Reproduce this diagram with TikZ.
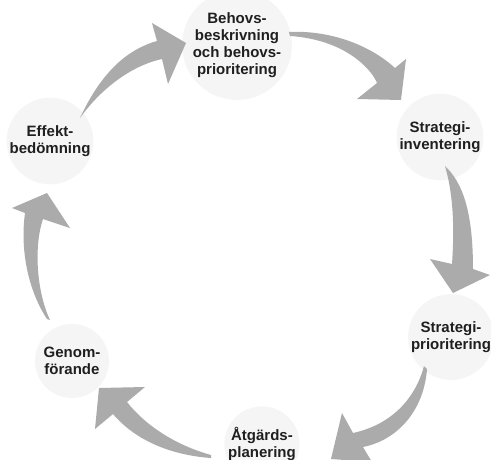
\documentclass[tikz,border=0pt]{standalone}
\usepackage{fontspec}
\setmainfont{Liberation Sans}
\begin{document}
\tikzset{
  lbl/.style={circle, fill=black!4, minimum size=74pt, inner sep=0pt, align=center,
    font=\fontsize{15}{17}\selectfont\bfseries, text=black!88},
  flow/.style={fill=black!33, draw=none}
}
\begin{tikzpicture}[x=1pt,y=-1pt]
\fill[white] (0,0) rectangle (491,459);
\useasboundingbox (0,0) rectangle (491,459);

\node[lbl, minimum size=80pt] (beh) at (237,45) {Behovs-\\beskrivning\\och behovs-\\prioritering};
\node[lbl] (sinv) at (440,137) {Strategi-\\inventering};
\node[lbl] (sprio) at (451,337) {Strategi-\\prioritering};
\node[lbl] (atg) at (262,444) {Åtgärds-\\planering};
\node[lbl] (gen) at (72,361) {Genom-\\förande};
\node[lbl] (eff) at (50,141) {Effekt-\\bedömning};

% Effekt -> Behovs
\fill[flow] (80,118) .. controls (100,75) and (125,50) .. (157,41) -- (152,23) -- (186,43) -- (168,84) -- (162,59) .. controls (130,66) and (100,90) .. (80,118) -- cycle;
% Behovs -> Strategi-inventering
\fill[flow] (289,32) .. controls (330,30) and (370,45) .. (395,68) -- (406,59) -- (401,100) -- (357,99) -- (377,83) .. controls (374,74) and (350,40) .. (290,36) -- cycle;
% Strategi-inventering -> Strategi-prioritering
\fill[flow] (445,166) .. controls (462,182) and (473,210) .. (473,269) -- (490,275) -- (453,293) -- (430,259) -- (452,264) .. controls (455,220) and (452,190) .. (445,166) -- cycle;
% Strategi-prioritering -> Atgards
\fill[flow] (424,366) .. controls (415,400) and (390,425) .. (353,433) -- (342,413) -- (331,459) -- (372,462) -- (363,447) .. controls (398,440) and (424,410) .. (427,369) -- cycle;
% Atgards -> Genomforande
\fill[flow] (211,455) .. controls (175,445) and (145,425) .. (127,402) -- (145,387) -- (99,388) -- (95,429) -- (113,414) .. controls (135,440) and (170,455) .. (211,458) -- cycle;
% Genomforande -> Effekt
\fill[flow] (47,319) .. controls (28,290) and (20,250) .. (25,213) -- (12,208) -- (47,193) -- (70,228) -- (43,219) .. controls (34,245) and (36,290) .. (50,320) -- cycle;
\end{tikzpicture}
\end{document}
